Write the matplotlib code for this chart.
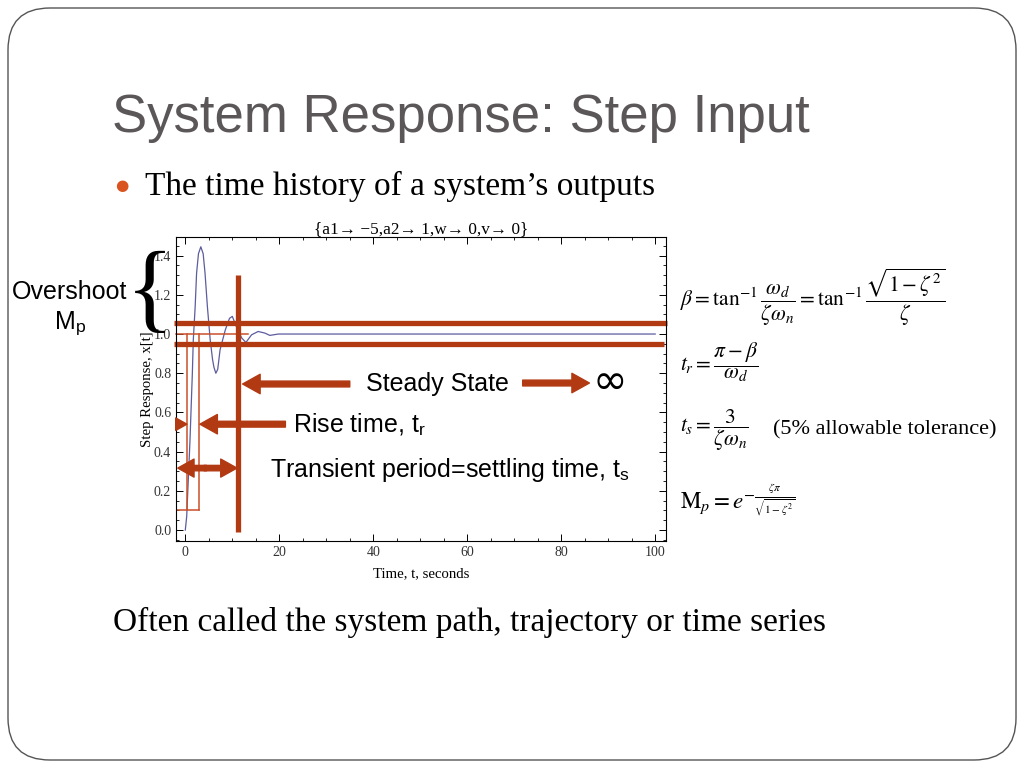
import matplotlib
matplotlib.use("Agg")
import matplotlib.pyplot as plt
from matplotlib.patches import FancyBboxPatch
from matplotlib.ticker import MultipleLocator

# Step response
time_s = [0, 0.3, 1.0, 1.5, 1.7, 2.1, 2.4, 2.8, 3.3, 3.8, 4.2, 4.7, 5.3, 5.8, 6.1, 6.5,
          6.9, 7.4, 8.5, 9.4, 10.0, 11.0, 12.0, 12.9, 14.1, 15.5, 16.9, 18.0, 19.8,
          24, 40, 60, 80, 100]
response = [0, 0.07, 0.46, 0.80, 0.97, 1.14, 1.31, 1.41, 1.445, 1.41, 1.31, 1.14, 0.97,
            0.87, 0.83, 0.80, 0.82, 0.92, 1.02, 1.08, 1.09, 1.03, 0.98, 0.957, 0.996,
            1.013, 1.005, 0.993, 1.0, 1.0, 1.0, 1.0, 1.0, 1.0]

# annotation values
band_upper = 1.055
band_lower = 0.947
settle_t = 11.25
rise_start, rise_end = 0.35, 3.0
ten_pct, steady = 0.1, 1.0

x_ticks = [0, 20, 40, 60, 80, 100]
y_ticks = [0.0, 0.2, 0.4, 0.6, 0.8, 1.0, 1.2, 1.4]

rust = "#B23A13"
thin_red = "#C9502A"
curve_col = "#5C5C9E"

plt.rcParams["mathtext.fontset"] = "stix"

fig = plt.figure(figsize=(10.24, 7.68), dpi=100)

def fx(px):
    return px / 1024

def fy(py):
    return 1 - py / 768

# slide frame
frame = FancyBboxPatch((0.08, 0.08), 10.08, 7.52,
                       boxstyle="round,pad=0,rounding_size=0.42",
                       transform=fig.dpi_scale_trans, fill=False,
                       edgecolor="#555555", lw=1.0)
fig.patches.append(frame)

fig.text(fx(112), fy(118), "System Response: Step Input", fontsize=38,
         color="#5B5758", family="Liberation Sans", va="center", ha="left")
fig.text(fx(122), fy(186), "\u25CF", fontsize=11, color="#D9541E",
         va="center", ha="center")
fig.text(fx(145), fy(186), "The time history of a system\u2019s outputs", fontsize=24,
         family="Liberation Serif", va="center", ha="left")
fig.text(fx(113), fy(622), "Often called the system path, trajectory or time series",
         fontsize=24, family="Liberation Serif", va="center", ha="left")

# plot
ax = fig.add_axes([fx(176), fy(541), 490 / 1024, 304 / 768])
ax.plot(time_s, response, color=curve_col, lw=0.9)
ax.set_xlim(-1.98, 102.3)
ax.set_ylim(-0.056, 1.495)
ax.set_xticks(x_ticks)
ax.set_yticks(y_ticks)
ax.set_yticklabels([f"{v:.1f}" for v in y_ticks])
ax.xaxis.set_minor_locator(MultipleLocator(5))
ax.yaxis.set_minor_locator(MultipleLocator(0.05))
ax.tick_params(which="both", direction="in", top=True, right=True,
               labelsize=10, labelcolor="#333333")
ax.tick_params(which="major", length=5, width=0.7)
ax.tick_params(which="minor", length=2.5, width=0.6)
for lab in ax.get_xticklabels() + ax.get_yticklabels():
    lab.set_family("Liberation Serif")
for sp in ax.spines.values():
    sp.set_linewidth(0.8)
ax.set_title("{a1\u2192 \u22125,a2\u2192 1,w\u2192 0,v\u2192 0}", fontsize=12.4,
             family="Liberation Serif", pad=2)
ax.set_xlabel("Time, t, seconds", fontsize=10.6, family="Liberation Serif", labelpad=6)
ax.set_ylabel("Step Response, x[t]", fontsize=10.6, family="Liberation Serif", labelpad=0)

# thin rise-time guide lines
ax.plot([-1.98, 13.3], [steady, steady], color=thin_red, lw=1.1, clip_on=False)
ax.plot([-1.98, rise_end], [ten_pct, ten_pct], color=thin_red, lw=1.1)
ax.plot([rise_start, rise_start], [ten_pct, steady], color=thin_red, lw=1.1)
ax.plot([rise_end, rise_end], [ten_pct, steady], color=thin_red, lw=1.1)

# thick tolerance band and settling line
ax.plot([-2.4, 102.6], [band_upper, band_upper], color=rust, lw=3.8,
        clip_on=False, solid_capstyle="butt")
ax.plot([-2.4, 101.8], [band_lower, band_lower], color=rust, lw=3.8,
        clip_on=False, solid_capstyle="butt")
ax.plot([settle_t, settle_t], [-0.01, 1.30], color=rust, lw=3.8,
        solid_capstyle="butt")

def arrow(x0, y0, x1, y1, scale=13):
    ax.annotate("", xy=(x1, y1), xytext=(x0, y0),
                arrowprops=dict(arrowstyle="simple,head_width=1.0,head_length=0.9,tail_width=0.3",
                                mutation_scale=scale, color=rust, shrinkA=0, shrinkB=0),
                annotation_clip=False)

arrow(35.0, 0.745, 12.2, 0.745, 14)
arrow(71.8, 0.75, 86.0, 0.75, 14)
arrow(21.3, 0.54, 3.1, 0.54, 14)
arrow(-1.9, 0.54, rise_start, 0.54, 9)
arrow(4.5, 0.316, -1.6, 0.316)
arrow(4.0, 0.316, 11.0, 0.316)

ax.text(53.6, 0.745, "Steady State", fontsize=18, family="Liberation Sans",
        ha="center", va="center")
ax.text(86.7, 0.755, "\u221E", fontsize=30, family="DejaVu Sans",
        ha="left", va="center")
ax.text(23.0, 0.54, r"Rise time, t$_\mathregular{r}$", fontsize=18, family="Liberation Sans",
        ha="left", va="center")
ax.text(18.0, 0.305, r"Transient period=settling time, t$_\mathregular{s}$", fontsize=18,
        family="Liberation Sans", ha="left", va="center")

# overshoot brace and label
fig.text(fx(150), fy(296), "{", fontsize=72, family="Liberation Serif",
         ha="center", va="center")
fig.text(fx(70), fy(292), "Overshoot", fontsize=18, family="Liberation Sans",
         ha="center", va="center")
fig.text(fx(70), fy(323), r"M$_\mathregular{p}$", fontsize=18, family="Liberation Sans",
         ha="center", va="center")

# formulas
fig.text(fx(680), fy(297), r"$\beta = \tan^{-1}\dfrac{\omega_d}{\zeta\omega_n} = \tan^{-1}\dfrac{\sqrt{1-\zeta^2}}{\zeta}$",
         fontsize=15.5, ha="left", va="center")
fig.text(fx(680), fy(362), r"$t_r = \dfrac{\pi-\beta}{\omega_d}$", fontsize=15.5,
         ha="left", va="center")
fig.text(fx(680), fy(430), r"$t_s = \dfrac{3}{\zeta\omega_n}$", fontsize=15.5,
         ha="left", va="center")
fig.text(fx(773), fy(430), "(5% allowable tolerance)", fontsize=16,
         family="Liberation Serif", ha="left", va="center")
fig.text(fx(680), fy(500), r"$\mathrm{M}_p = e^{-\frac{\zeta\pi}{\sqrt{1-\zeta^2}}}$",
         fontsize=16.5, ha="left", va="center")

fig.savefig("out.png", dpi=100)
